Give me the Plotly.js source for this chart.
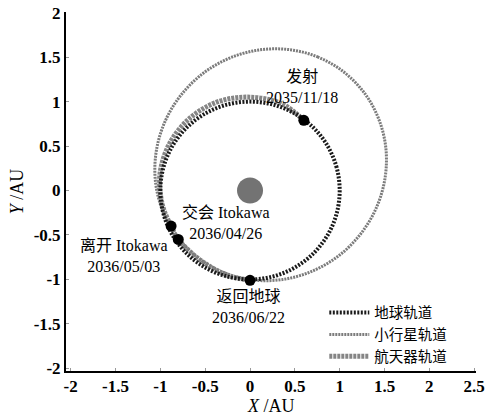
<!DOCTYPE html>
<html>
<head>
<meta charset="utf-8">
<script src="https://cdn.plot.ly/plotly-3.0.1.min.js"></script>
<style>html,body{margin:0;padding:0;background:#fff;}#chart{width:486px;height:417px;}</style>
</head>
<body>
<div id="chart"></div>
<script>
// Earth orbit (AU)
var earthX = [1, 0.966, 0.866, 0.707, 0.5, 0.259, 0, -0.259, -0.5, -0.707, -0.866, -0.966, -1, -0.966, -0.866, -0.707, -0.5, -0.259, 0, 0.259, 0.5, 0.707, 0.866, 0.966, 1];
var earthY = [0, 0.259, 0.5, 0.707, 0.866, 0.966, 1, 0.966, 0.866, 0.707, 0.5, 0.259, 0, -0.259, -0.5, -0.707, -0.866, -0.966, -1, -0.966, -0.866, -0.707, -0.5, -0.259, 0];
// Itokawa orbit (AU)
var asteroidX = [1.046, 0.759, 0.436, 0.099, -0.229, -0.526, -0.771, -0.948, -1.045, -1.055, -0.976, -0.817, -0.586, -0.299, 0.024, 0.361, 0.689, 0.986, 1.231, 1.408, 1.505, 1.515, 1.436, 1.277, 1.046];
var asteroidY = [1.333, 1.501, 1.585, 1.581, 1.489, 1.316, 1.072, 0.776, 0.445, 0.105, -0.223, -0.515, -0.753, -0.921, -1.005, -1.001, -0.909, -0.736, -0.492, -0.196, 0.135, 0.475, 0.803, 1.095, 1.333];
// Spacecraft trajectory (AU)
var craftX = [0.60, 0.355, 0, -0.363, -0.678, -0.901, -1.005, -0.975, -0.88, -0.80, -0.55, -0.255, 0];
var craftY = [0.79, 0.975, 1.05, 0.997, 0.808, 0.52, 0.177, -0.172, -0.40, -0.55, -0.786, -0.951, -1.01];
// Events
var eventX = [0.60, -0.88, -0.80, 0];
var eventY = [0.79, -0.40, -0.55, -1.01];
var eventNames = ['发射', '交会 Itokawa', '离开 Itokawa', '返回地球'];
var eventDates = ['2035/11/18', '2036/04/26', '2036/05/03', '2036/06/22'];
var labelX = [0.58, -0.27, -1.41, -0.02];
var labelY = [1.17, -0.37, -0.74, -1.31];
// Sun
var sunX = [0];
var sunY = [0];
var seriesNames = ['地球轨道', '小行星轨道', '航天器轨道'];
var xTicks = [-2, -1.5, -1, -0.5, 0, 0.5, 1, 1.5, 2, 2.5];
var yTicks = [-2, -1.5, -1, -0.5, 0, 0.5, 1, 1.5, 2];

var FONT = 'Liberation Serif, "Noto Sans CJK SC", serif';

var traces = [
  {x: craftX, y: craftY, mode: 'lines', name: seriesNames[2], legendrank: 3,
   line: {color: '#858585', width: 5, dash: '3px,1px', shape: 'spline'}},
  {x: asteroidX, y: asteroidY, mode: 'lines', name: seriesNames[1], legendrank: 2,
   line: {color: '#7c7c7c', width: 3, dash: '2px,1px', shape: 'spline'}},
  {x: earthX, y: earthY, mode: 'lines', name: seriesNames[0], legendrank: 1,
   line: {color: '#1a1a1a', width: 4, dash: '2px,1.5px', shape: 'spline'}},
  {x: sunX, y: sunY, mode: 'markers', showlegend: false,
   marker: {size: 26, color: '#737373'}},
  {x: eventX, y: eventY, mode: 'markers', showlegend: false,
   marker: {size: 11, color: '#000'}}
];

var annotations = eventNames.map(function (n, i) {
  return {x: labelX[i], y: labelY[i], xref: 'x', yref: 'y', showarrow: false,
    text: n + '<br>' + eventDates[i], align: 'center',
    font: {family: FONT, size: 16, color: '#000'}};
});
annotations.push({x: 0.5, y: -0.098, xref: 'paper', yref: 'paper', showarrow: false,
  xanchor: 'center', yanchor: 'middle', text: '<i>X</i> /AU',
  font: {family: FONT, size: 18, color: '#000'}});

var layout = {
  width: 486, height: 417,
  margin: {l: 66, r: 10, t: 12, b: 46},
  paper_bgcolor: '#fff', plot_bgcolor: '#fff',
  showlegend: true,
  legend: {x: 0.63, y: 0.207, xanchor: 'left', yanchor: 'top', bgcolor: 'rgba(0,0,0,0)',
    font: {family: FONT, size: 14.5, color: '#000'}, itemwidth: 40, tracegroupgap: 0},
  xaxis: {range: [-2.052, 2.52], tickvals: xTicks, ticktext: xTicks.map(String),
    showgrid: false, zeroline: false, showline: true, linecolor: '#000', linewidth: 2,
    ticks: 'inside', ticklen: 3, tickcolor: '#999', tickwidth: 1, ticklabeloverflow: 'allow',
    ticklabelstandoff: -1,
    tickfont: {family: FONT, size: 17, color: '#000', weight: 'bold'}},
  yaxis: {range: [-2.03, 2.008], tickvals: yTicks, ticktext: yTicks.map(String),
    showgrid: false, zeroline: false, showline: true, linecolor: '#000', linewidth: 2,
    ticks: 'inside', ticklen: 3, tickcolor: '#999', tickwidth: 1, ticklabeloverflow: 'allow',
    tickfont: {family: FONT, size: 17, color: '#000', weight: 'bold'},
    title: {text: '<i>Y</i> /AU', font: {family: FONT, size: 18, color: '#000'}, standoff: 5}},
  annotations: annotations
};

Plotly.newPlot('chart', traces, layout, {displayModeBar: false, staticPlot: true});
</script>
</body>
</html>
